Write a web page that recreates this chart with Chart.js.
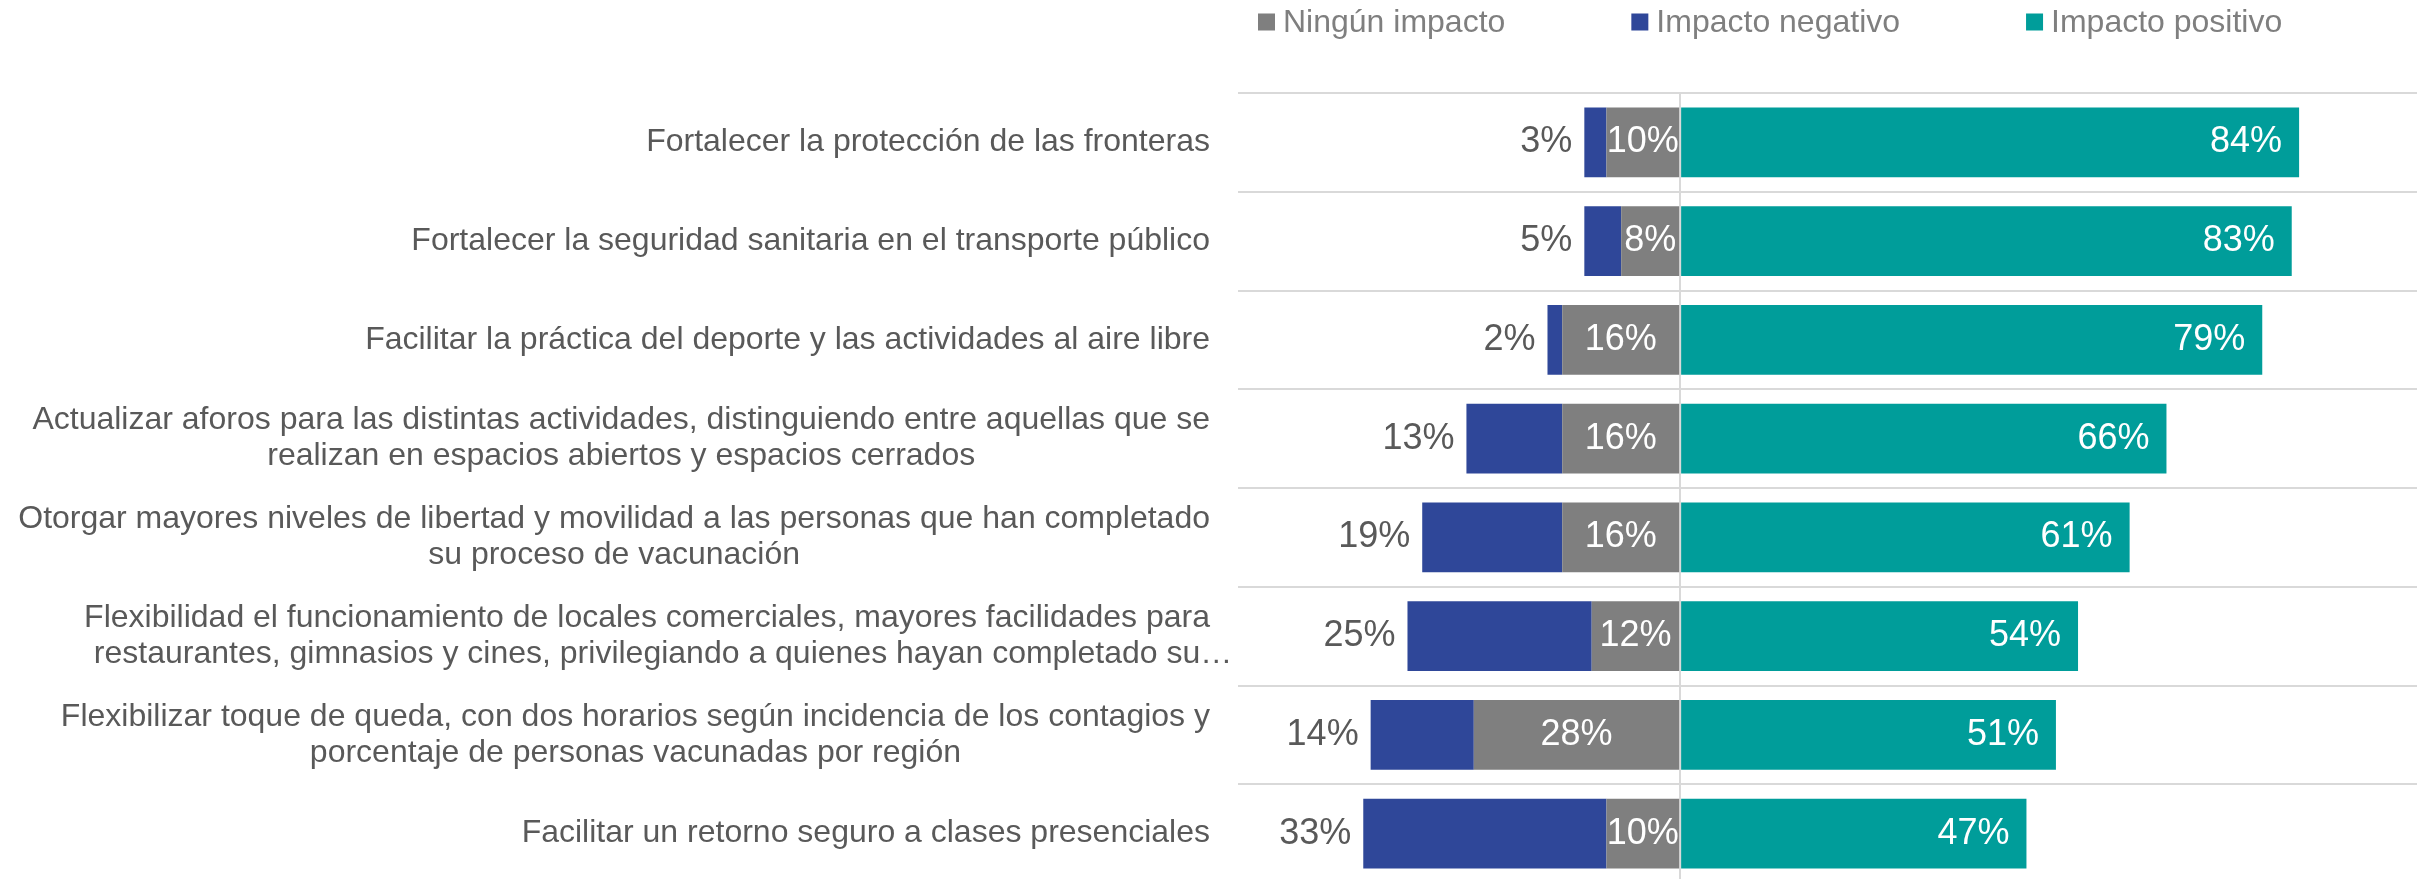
<!DOCTYPE html>
<html lang="es">
<head>
<meta charset="utf-8">
<title>Impacto de las medidas</title>
<script src="https://cdn.jsdelivr.net/npm/chart.js@4.4.1/dist/chart.umd.min.js"></script>
<style>
    html, body { margin: 0; padding: 0; background: #ffffff; overflow: hidden; }
    #wrap { width: 2417px; height: 884px; }
</style>
</head>
<body>
<div id="wrap"><canvas id="impactChart" width="2417" height="884"></canvas></div>
<script>
// Data
const categories = [
    'Fortalecer la protección de las fronteras',
    'Fortalecer la seguridad sanitaria en el transporte público',
    'Facilitar la práctica del deporte y las actividades al aire libre',
    ['Actualizar aforos para las distintas actividades, distinguiendo entre aquellas que se', 'realizan en espacios abiertos y espacios cerrados'],
    ['Otorgar mayores niveles de libertad y movilidad a las personas que han completado', 'su proceso de vacunación'],
    ['Flexibilidad el funcionamiento de locales comerciales, mayores facilidades para', 'restaurantes, gimnasios y cines, privilegiando a quienes hayan completado su…'],
    ['Flexibilizar toque de queda, con dos horarios según incidencia de los contagios y', 'porcentaje de personas vacunadas por región'],
    'Facilitar un retorno seguro a clases presenciales'
];
const ningunImpacto = [10, 8, 16, 16, 16, 12, 28, 10];
const impactoNegativo = [3, 5, 2, 13, 19, 25, 14, 33];
const impactoPositivo = [84, 83, 79, 66, 61, 54, 51, 47];
const seriesNames = ['Ningún impacto', 'Impacto negativo', 'Impacto positivo'];

// Colors
const colors = {
    grey: '#7f7f7f',
    blue: '#2f4799',
    teal: '#009d9a',
    grid: '#d9d9d9',
    text: '#595959',
    legendText: '#7f7f7f'
};
const FONT = "'Liberation Sans', Arial, sans-serif";

// Category labels: block right aligned, lines centered inside the block
const categoryLabels = {
    id: 'categoryLabels',
    afterDraw(chart) {
        const ctx = chart.ctx;
        const yScale = chart.scales.y;
        const rightEdge = 1210;
        const lineHeight = 36;
        ctx.save();
        ctx.font = '32px ' + FONT;
        ctx.fillStyle = colors.text;
        ctx.textBaseline = 'middle';
        ctx.textAlign = 'left';
        categories.forEach((cat, i) => {
            const lines = Array.isArray(cat) ? cat : [cat];
            // trailing ellipsis hangs past the block edge, like the original
            const widths = lines.map(l => ctx.measureText(l.replace(/…$/, '')).width);
            const blockW = Math.max(...widths);
            const center = rightEdge - blockW / 2;
            const y = yScale.getPixelForValue(i);
            lines.forEach((line, k) => {
                const ly = y + (k - (lines.length - 1) / 2) * lineHeight;
                ctx.fillText(line, center - widths[k] / 2, ly);
            });
        });
        ctx.restore();
    }
};

// Value labels on the bars
const valueLabels = {
    id: 'valueLabels',
    afterDatasetsDraw(chart) {
        const ctx = chart.ctx;
        ctx.save();
        ctx.font = '36px ' + FONT;
        ctx.textBaseline = 'middle';
        chart.data.datasets.forEach((ds, di) => {
            const meta = chart.getDatasetMeta(di);
            meta.data.forEach((bar, i) => {
                const txt = Math.abs(ds.data[i]) + '%';
                const left = Math.min(bar.x, bar.base);
                const right = Math.max(bar.x, bar.base);
                if (di === 0) {
                    ctx.fillStyle = '#ffffff';
                    ctx.textAlign = 'center';
                    ctx.fillText(txt, (left + right) / 2, bar.y);
                } else if (di === 1) {
                    ctx.fillStyle = colors.text;
                    ctx.textAlign = 'right';
                    ctx.fillText(txt, left - 12, bar.y);
                } else {
                    ctx.fillStyle = '#ffffff';
                    ctx.textAlign = 'right';
                    ctx.fillText(txt, right - 17, bar.y);
                }
            });
        });
        ctx.restore();
    }
};

// Legend drawn across the top
const topLegend = {
    id: 'topLegend',
    afterDraw(chart) {
        const ctx = chart.ctx;
        let x = 1258;
        const y = 23;
        const box = 17;
        ctx.save();
        ctx.font = '32px ' + FONT;
        ctx.textBaseline = 'middle';
        ctx.textAlign = 'left';
        chart.data.datasets.forEach(ds => {
            ctx.fillStyle = ds.backgroundColor;
            ctx.fillRect(x, y - box / 2 - 1, box, box);
            ctx.fillStyle = colors.legendText;
            ctx.fillText(ds.label, x + box + 8, y);
            x += box + 8 + ctx.measureText(ds.label).width + 126;
        });
        ctx.restore();
    }
};

function initChart() {
    const ctx = document.getElementById('impactChart').getContext('2d');
    new Chart(ctx, {
        type: 'bar',
        data: {
            labels: categories,
            datasets: [
                { label: seriesNames[0], data: ningunImpacto.map(v => -v), backgroundColor: colors.grey },
                { label: seriesNames[1], data: impactoNegativo.map(v => -v), backgroundColor: colors.blue },
                { label: seriesNames[2], data: impactoPositivo, backgroundColor: colors.teal }
            ]
        },
        options: {
            indexAxis: 'y',
            responsive: false,
            animation: false,
            categoryPercentage: 1,
            barPercentage: 0.705,
            layout: { padding: { top: 93, bottom: 1, left: 0, right: 0 } },
            plugins: {
                legend: { display: false },
                tooltip: { enabled: false }
            },
            scales: {
                x: {
                    stacked: true,
                    min: -60, max: 100,
                    z: 1,
                    ticks: { display: false, stepSize: 10 },
                    border: { display: false },
                    grid: {
                        drawTicks: false,
                        lineWidth: 2,
                        color: c => (c.tick && c.tick.value === 0 ? colors.grid : 'rgba(0,0,0,0)')
                    },
                    afterFit: scale => { scale.height = 0; }
                },
                y: {
                    stacked: true,
                    ticks: { display: false },
                    border: { display: false },
                    grid: { offset: true, drawTicks: false, lineWidth: 2, color: colors.grid },
                    afterFit: scale => { scale.width = 1238; }
                }
            }
        },
        plugins: [categoryLabels, valueLabels, topLegend]
    });
}

document.addEventListener('DOMContentLoaded', initChart);
</script>
</body>
</html>
